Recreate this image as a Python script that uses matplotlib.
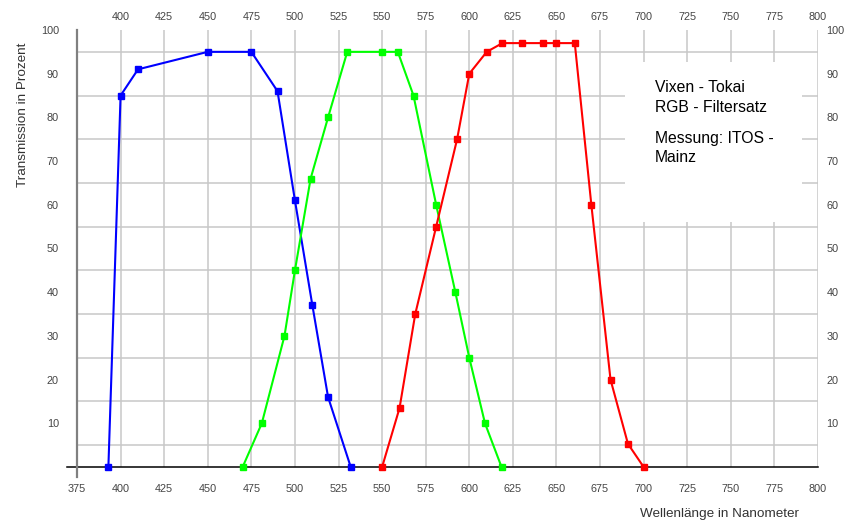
import matplotlib
matplotlib.use("Agg")
import matplotlib.pyplot as plt
from matplotlib.patches import Rectangle
from matplotlib.lines import Line2D
import numpy as np

plt.rcParams['font.family'] = ['Liberation Sans', 'DejaVu Sans']

# Data (wavelength nm, transmission %)
blue_x = [393, 400, 410, 450, 475, 490, 500, 510, 519, 532]
blue_y = [0, 85, 91, 95, 95, 86, 61, 37, 16, 0]

green_x = [470, 481, 494, 500, 509, 519, 530, 550, 559, 568, 581, 592, 600, 609, 618.5]
green_y = [0, 10, 30, 45, 66, 80, 95, 95, 95, 85, 60, 40, 25, 10, 0]

red_x = [550, 560, 569, 581, 593, 600, 610, 619, 630, 642, 650, 660.5, 670, 681, 691, 700]
red_y = [0, 13.5, 35, 55, 75, 90, 95, 97, 97, 97, 97, 97, 60, 20, 5.3, 0]

x_ticks_bottom = list(range(375, 801, 25))
x_ticks_top = list(range(400, 801, 25))
y_ticks = list(range(10, 101, 10))
y_grid = list(range(5, 101, 5))

legend_lines = ["Vixen - Tokai", "RGB - Filtersatz", "Messung: ITOS -", "Mainz"]

W, H = 849, 526
fig = plt.figure(figsize=(W / 100, H / 100), dpi=100)
ax = fig.add_axes([77 / W, 1 - 467 / H, (818 - 77) / W, (467 - 30) / H])
ax.set_xlim(375, 800)
ax.set_ylim(0, 100)

for s in ax.spines.values():
    s.set_visible(False)

ax.set_axisbelow(True)
ax.set_xticks(x_ticks_bottom)
ax.set_yticks(y_ticks)
ax.set_yticks(y_grid, minor=True)
ax.grid(True, which='major', axis='x', color='#c8c8c8', lw=1.1)
ax.grid(True, which='minor', axis='y', color='#c8c8c8', lw=1.1)
ax.tick_params(axis='both', which='both', length=0)
ax.tick_params(axis='x', labelsize=7.8, labelcolor='#444444', pad=12)
ax.tick_params(axis='y', labelsize=7.8, labelcolor='#444444', pad=13)

# top / right secondary axes labels
secx = ax.secondary_xaxis('top')
secx.set_xticks(x_ticks_top)
secx.tick_params(length=0, labelsize=7.8, labelcolor='#444444', pad=6)
for s in secx.spines.values():
    s.set_visible(False)
secy = ax.secondary_yaxis('right')
secy.set_yticks(y_ticks)
secy.tick_params(length=0, labelsize=7.8, labelcolor='#444444', pad=6)
for s in secy.spines.values():
    s.set_visible(False)

# axis lines
ax.axhline(0, xmin=-0.0135, xmax=1, color='black', lw=1.1, clip_on=False, zorder=2)
ax.add_line(Line2D([0, 0], [1, -0.024], transform=ax.transAxes, color='#808080',
                   lw=1.6, clip_on=False, zorder=2))

# white note box
fig.patches.append(Rectangle((625 / W, 1 - 222 / H), (802 - 625) / W, (222 - 62) / H,
                             transform=fig.transFigure, facecolor='white',
                             edgecolor='none', zorder=1))
ax.set_zorder(0)
ax.patch.set_alpha(0)

# series
for xs, ys, c in [(blue_x, blue_y, '#0000ff'), (green_x, green_y, '#00ff00'),
                  (red_x, red_y, '#ff0000')]:
    ax.plot(xs, ys, color=c, lw=1.5, marker='s', markersize=4.3, zorder=3,
            clip_on=False)

# note text
for txt, ypx in zip(legend_lines, [88, 107, 139, 158]):
    fig.text(655 / W, 1 - ypx / H, txt, fontsize=11.3, color='black',
             ha='left', va='center', zorder=5)

fig.text(23 / W, 1 - 115 / H, "Transmission in Prozent", rotation=90,
         fontsize=9.7, color='#333333', ha='center', va='center')
fig.text(799 / W, 1 - 514 / H, "Wellenlänge in Nanometer",
         fontsize=9.7, color='#333333', ha='right', va='center')

fig.savefig("out.png", dpi=100, facecolor='white')
